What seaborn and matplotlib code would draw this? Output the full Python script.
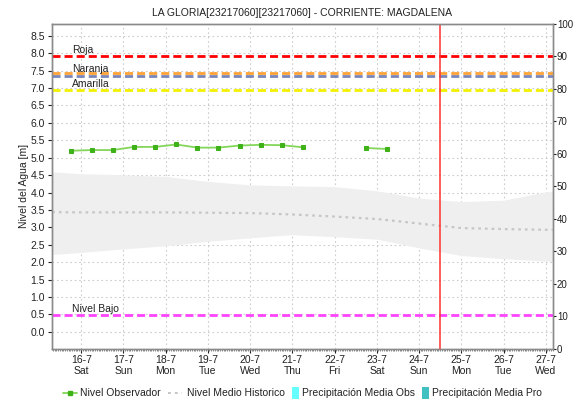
import numpy as np
import pandas as pd
import matplotlib
matplotlib.use("Agg")
import matplotlib.pyplot as plt
from matplotlib.lines import Line2D
from matplotlib.patches import Rectangle
import seaborn as sns

# ---- data -------------------------------------------------------------
# observed water level (day of July, metres); two segments separated by a gap
obs_day = [15.75, 16.25, 16.75, 17.25, 17.75, 18.25, 18.75, 19.25, 19.75,
           20.25, 20.75, 21.25, 22.75, 23.25]
obs_level = [5.20, 5.22, 5.22, 5.31, 5.31, 5.38, 5.29, 5.29, 5.35,
             5.37, 5.36, 5.30, 5.28, 5.25]
obs_segment = [0] * 12 + [1] * 2

# historic statistics (daily)
hist_day = [15, 16, 17, 18, 19, 20, 21, 22, 23, 24, 25, 26, 27, 28]
hist_mean = [3.44, 3.43, 3.43, 3.43, 3.42, 3.41, 3.37, 3.31, 3.24, 3.11,
             2.98, 2.95, 2.93, 2.93]
hist_upper = [4.62, 4.54, 4.51, 4.46, 4.32, 4.22, 4.19, 4.17, 4.05, 3.84,
              3.74, 3.78, 4.02, 4.10]
hist_lower = [2.19, 2.28, 2.38, 2.47, 2.60, 2.70, 2.79, 2.73, 2.66, 2.41,
              2.19, 2.10, 2.03, 2.00]

# alert thresholds (m)
alert_names = ["Roja", "Naranja", "", "Amarilla", "Nivel Bajo"]
alert_levels = [7.92, 7.44, 7.35, 6.95, 0.47]
alert_colors = ["#ff0000", "#ffa236", "#7a86b8", "#f2f200", "#ff44ff"]
label_offsets = [0.10, 0.01, 0.0, 0.09, 0.09]

now_day = 24.49

tick_days = [16, 17, 18, 19, 20, 21, 22, 23, 24, 25, 26, 27]
tick_weekdays = ["Sat", "Sun", "Mon", "Tue", "Wed", "Thu", "Fri", "Sat",
                 "Sun", "Mon", "Tue", "Wed"]

title = "LA GLORIA[23217060][23217060] - CORRIENTE: MAGDALENA"
legend_labels = ["Nivel Observador", "Nivel Medio Historico",
                 "Precipitación Media Obs", "Precipitación Media Pro"]

# ---- figure -----------------------------------------------------------
sns.set_theme(style="white")
plt.rcParams["font.family"] = ["Liberation Sans", "DejaVu Sans"]

W, H = 574, 403
fig = plt.figure(figsize=(W / 100, H / 100), dpi=100)
ax = fig.add_axes([0.0906, 0.1352, 0.8728, 0.8052])

TXT = "#222222"
FS = 7.5
OBS_LINE, OBS_MARK = "#84d65a", "#3fb21a"
MEAN_COL = "#c6c6c6"

hist_df = pd.DataFrame({"day": hist_day, "mean": hist_mean,
                        "upper": hist_upper, "lower": hist_lower})
ax.fill_between(hist_df["day"], hist_df["lower"], hist_df["upper"],
                color="#efefef", linewidth=0, zorder=1)
sns.lineplot(data=hist_df, x="day", y="mean", ax=ax, color=MEAN_COL,
             linewidth=1.6, linestyle=(0, (1.2, 1.8)), zorder=3)

for name, lvl, col, off in zip(alert_names, alert_levels, alert_colors,
                               label_offsets):
    ax.axhline(lvl, color=col, linewidth=2.0, linestyle=(0, (2.9, 1.45)),
               zorder=4)
    if name:
        ax.text(15.79, lvl + off, name, fontsize=FS, color=TXT,
                ha="left", va="baseline", zorder=6)

obs_df = pd.DataFrame({"day": obs_day, "level": obs_level,
                       "segment": obs_segment})
sns.lineplot(data=obs_df, x="day", y="level", units="segment",
             estimator=None, ax=ax, color=OBS_LINE, linewidth=1.3,
             marker="s", markersize=3.0, markerfacecolor=OBS_MARK,
             markeredgecolor=OBS_MARK, zorder=5)

ax.axvline(now_day, color="#ff3030", linewidth=1.1, zorder=6)

ax.set_xlim(15.31, 27.17)
ax.set_ylim(-0.48, 8.84)
yt = np.arange(0, 8.51, 0.5)
ax.set_yticks(yt)
ax.set_yticklabels([f"{v:.1f}" for v in yt])
ax.set_xticks(tick_days)
ax.set_xticklabels([f"{d}-7\n{w}" for d, w in zip(tick_days, tick_weekdays)],
                   linespacing=1.1)
ax.set_xticks(np.arange(15.33, 27.17, 1 / 24), minor=True)
ax.grid(True, which="major", color="#cccccc", linewidth=0.8,
        linestyle=(0, (1.5, 2.5)))
ax.set_axisbelow(True)

ax.tick_params(axis="both", which="major", labelsize=FS, colors=TXT,
               length=3, width=0.8, direction="out", pad=2,
               left=True, bottom=True)
ax.tick_params(axis="x", which="minor", length=1.5, width=0.5,
               color="#555555", bottom=True)
ax.set_xlabel("")
ax.set_ylabel("Nivel del Agua [m]", fontsize=FS, color=TXT, labelpad=1)
for sp in ax.spines.values():
    sp.set_color("#8a8a8a")
    sp.set_linewidth(1.0)

ax2 = ax.twinx()
ax2.set_ylim(0, 100)
ax2.set_yticks(np.arange(0, 101, 10))
ax2.tick_params(axis="y", labelsize=7.0, colors=TXT, length=2.2,
                width=0.8, direction="out", pad=0.6, right=True)
ax2.grid(False)
for sp in ax2.spines.values():
    sp.set_color("#8a8a8a")
    sp.set_linewidth(1.0)

ax.set_title(title, fontsize=FS, color=TXT, pad=6)

# ---- legend row under the plot (placed in figure pixels) --------------
renderer = fig.canvas.get_renderer()
leg_y = H - 393          # vertical centre in pixels from bottom
x = 63.0


def px(xp, yp):
    return xp / W, yp / H


for i, lab in enumerate(legend_labels):
    if i == 0:
        fig.add_artist(Line2D([x / W, (x + 14) / W], [leg_y / H] * 2,
                              color=OBS_LINE, linewidth=1.3))
        fig.add_artist(Line2D([(x + 7) / W], [leg_y / H], marker="s",
                              markersize=2.5, color=OBS_MARK,
                              linestyle="none"))
        tx = x + 17
    elif i == 1:
        fig.add_artist(Line2D([x / W, (x + 14) / W], [leg_y / H] * 2,
                              color=MEAN_COL, linewidth=1.4,
                              linestyle=(0, (1.5, 2.0))))
        tx = x + 19
    else:
        col = "#66ffff" if i == 2 else "#40c0c0"
        fig.add_artist(Rectangle(px(x, leg_y - 6), 7 / W, 12 / H,
                                 transform=fig.transFigure, facecolor=col,
                                 edgecolor="none"))
        tx = x + 10
    t = fig.text(tx / W, leg_y / H, lab, fontsize=FS, color=TXT,
                 ha="left", va="center")
    bb = t.get_window_extent(renderer=renderer)
    x = bb.x1 + 7

fig.savefig("out.png", dpi=100)
